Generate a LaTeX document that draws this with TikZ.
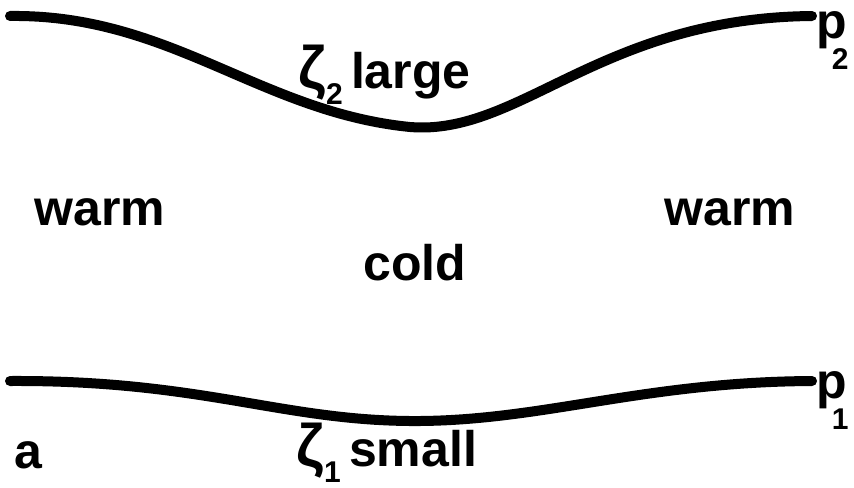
\documentclass[tikz,border=0pt]{standalone}
\usepackage{fontspec}
\setmainfont{Liberation Sans}
\usepackage{tikz}
\usetikzlibrary{positioning,calc}

\newcommand{\lowsub}[1]{\raisebox{-0.32em}{\fontsize{15}{16}\selectfont #1}}
\newcommand{\plev}[1]{p\kern-0.3em\raisebox{-0.62em}{\fontsize{15}{16}\selectfont #1}}
\newcommand{\bigzeta}{{\fontsize{30}{30}\selectfont ζ}}

\begin{document}
\begin{tikzpicture}[x=0.5pt, y=-0.5pt,
    surf/.style={line width=5pt, line cap=round},
    lbl/.style={font=\fontsize{25}{28}\selectfont\bfseries, inner sep=0pt, anchor=base}
]
\useasboundingbox (0,0) rectangle (854,487);
% isobaric surfaces
\coordinate (top-w) at (10,16);
\coordinate (top-m) at (410,127);
\coordinate (top-e) at (812,16);
\coordinate (bot-w) at (10,381);
\coordinate (bot-m) at (410,421);
\coordinate (bot-e) at (812,381);
\draw[surf] (top-w) .. controls (170,14) and (260,112) .. (top-m)
    .. controls (520,136) and (600,18) .. (top-e);
\draw[surf] (bot-w) .. controls (200,380) and (280,420) .. (bot-m)
    .. controls (540,422) and (640,382) .. (bot-e);

\node[lbl, anchor=base west] (ptwo) at (816,38) {\plev{2}};
\node[lbl, anchor=base west] (pone) at (816,398) {\plev{1}};
\node[lbl, anchor=base west] (zlarge) at (298,88) {\bigzeta\lowsub{2}\,large};
\node[lbl] (warmw) at (100,225) {warm};
\node[lbl] (warme) at (730,225) {warm};
\node[lbl] (cold) at (415,280) {cold};
\node[lbl, anchor=base west] (zsmall) at (296,466) {\bigzeta\lowsub{1}\,small};
\node[lbl, anchor=base west] (sub) at (14,468) {a};
\end{tikzpicture}
\end{document}
